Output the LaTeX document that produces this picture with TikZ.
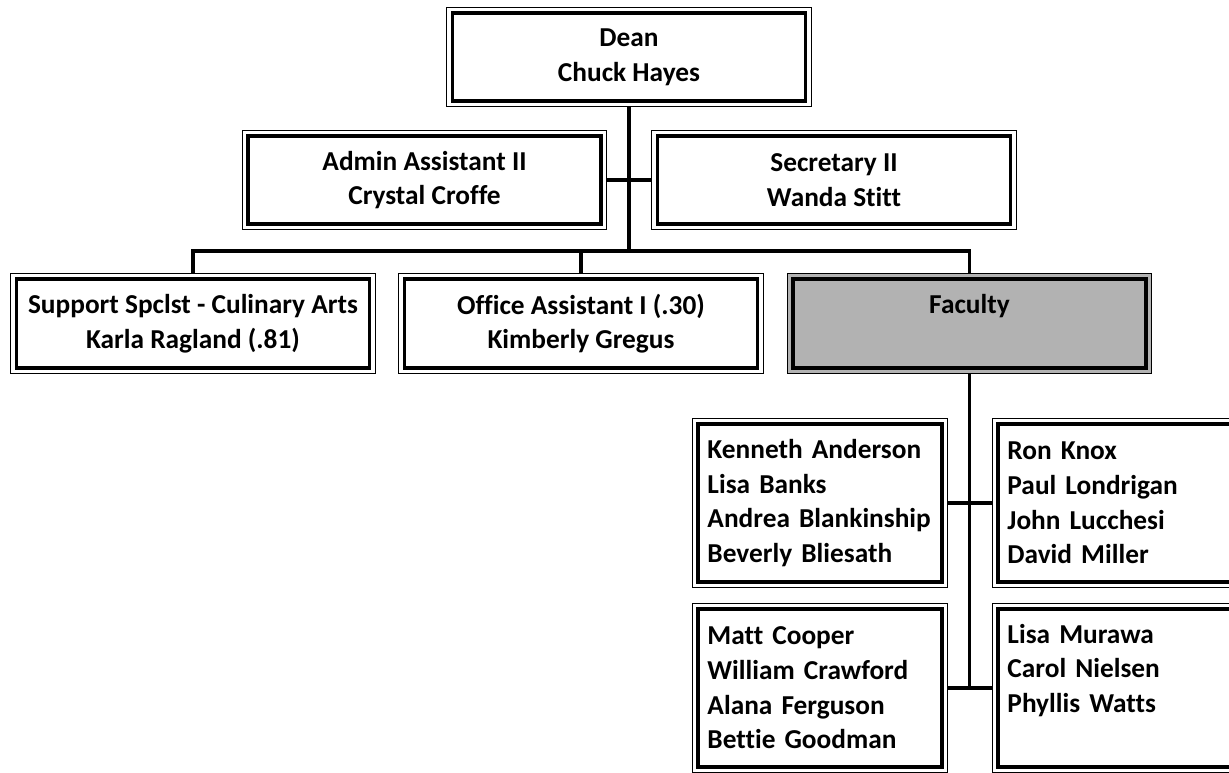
\documentclass[tikz,border=0pt]{standalone}
\usepackage{fontspec}
\setmainfont{Carlito}[Ligatures=NoCommon]
\usepackage{xcolor}
\definecolor{OrgGray}{HTML}{B2B2B2}

\begin{document}
\begin{tikzpicture}[
  x=0.75pt,y=-0.75pt,
  link/.style={draw=black,line width=2.5pt},
  orgbox/.style={draw=black,fill=#1,line width=2.6pt,
    preaction={draw=black,line width=9.2pt},
    preaction={draw=#1,line width=7.4pt},
    outer sep=4.6pt,font=\bfseries\fontsize{20.5}{26}\selectfont},
  post/.style={orgbox=#1,minimum width=265pt,minimum height=66pt,
    inner xsep=4pt,align=center},
  post/.default=white,
  staff/.style={orgbox=white,minimum width=182.9pt,minimum height=118.4pt,
    inner xsep=7pt,text width=168.8pt,align=left}
]
\useasboundingbox (0,0) rectangle (1229,772);
\clip (0,0) rectangle (1229,772);

% top of the chart
\node[post] (dean) at (629,57) {Dean\\Chuck Hayes};
\node[post] (admin) at (424.5,180) {Admin Assistant II\\Crystal Croffe};
\node[post] (secretary) at (834,180) {Secretary II\\Wanda Stitt};

% second row
\node[post,minimum height=66.6pt] (support) at (193,323.5)
  {Support Spclst - Culinary Arts\\Karla Ragland (.81)};
\node[post,minimum height=66.6pt] (office) at (581,323.5)
  {Office Assistant I (.30)\\Kimberly Gregus};
\node[post=OrgGray,minimum height=66.6pt] (faculty) at (969.5,323.5)
  {Faculty\\\vphantom{Ag}};

% faculty members
\node[staff] (staffA) at (820,503)
  {Kenneth~Anderson\\Lisa~Banks\\Andrea~Blankinship\\Beverly~Bliesath};
\node[staff] (staffB) at (1120,503)
  {Ron~Knox\\Paul~Londrigan\\John~Lucchesi\\David~Miller};
\node[staff] (staffC) at (820,688)
  {Matt~Cooper\\William~Crawford\\Alana~Ferguson\\Bettie~Goodman};
\node[staff] (staffD) at (1120,688)
  {Lisa~Murawa\\Carol~Nielsen\\Phyllis~Watts\\\vphantom{Ag}};

\coordinate (bus) at (629,251);

\draw[link] (dean) -- (bus);
\draw[link] (admin) -- (secretary);
\draw[link] (support) |- (bus) -| (faculty);
\draw[link] (office) -- (office |- bus);
\draw[link] (faculty) -- (faculty |- staffC);
\draw[link] (staffA) -- (staffB);
\draw[link] (staffC) -- (staffD);

\end{tikzpicture}
\end{document}
